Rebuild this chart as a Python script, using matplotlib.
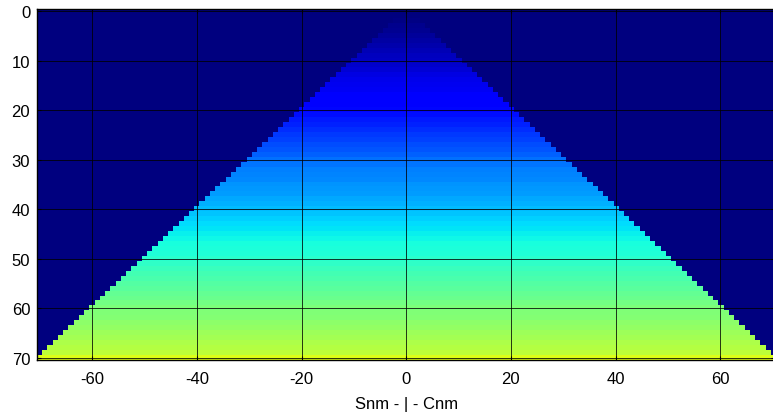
import matplotlib
matplotlib.use("Agg")
import matplotlib.pyplot as plt
import numpy as np

plt.rcParams["font.family"] = ["Liberation Sans", "DejaVu Sans"]
plt.rcParams["axes.unicode_minus"] = False

# degree n (rows) and order m (columns, S on the left, C on the right)
degrees = list(range(0, 71))
orders = list(range(-70, 71))

# level per degree (jet scale, 0..1)
row_level = [
    0.0, 0.0, 0.005, 0.012, 0.018, 0.025, 0.032, 0.04, 0.048, 0.055,
    0.062, 0.07, 0.078, 0.086, 0.095, 0.10, 0.105, 0.11, 0.115, 0.12,
    0.13, 0.14, 0.15, 0.16, 0.17, 0.18, 0.19, 0.20, 0.21, 0.22,
    0.235, 0.24, 0.25, 0.255, 0.26, 0.27, 0.275, 0.28, 0.29, 0.30,
    0.31, 0.32, 0.33, 0.34, 0.35, 0.36, 0.37, 0.38, 0.385, 0.39,
    0.40, 0.41, 0.42, 0.43, 0.44, 0.45, 0.46, 0.47, 0.48, 0.49,
    0.50, 0.505, 0.51, 0.52, 0.53, 0.54, 0.55, 0.56, 0.57, 0.58,
    0.62,
]
background = 0.0

grid = np.full((len(degrees), len(orders)), background)
for i, n in enumerate(degrees):
    for j, m in enumerate(orders):
        if abs(m) <= n:
            grid[i, j] = row_level[i]

fig = plt.figure(figsize=(7.73, 4.14), dpi=100)
ax = fig.add_axes([0.048, 0.128, 0.955, 0.848])
ax.imshow(grid, cmap="jet", vmin=0, vmax=1, interpolation="nearest",
          aspect="auto",
          extent=[orders[0] - 0.5, orders[-1] + 0.5, degrees[-1] + 0.5, degrees[0] - 0.5])

ax.set_xticks([-60, -40, -20, 0, 20, 40, 60])
ax.set_yticks([0, 10, 20, 30, 40, 50, 60, 70])
ax.tick_params(direction="in", length=3, labelsize=12, top=True, right=True,
               width=0.8)
ax.tick_params(axis="x", pad=8)
ax.tick_params(axis="y", pad=5)
ax.grid(True, color="black", linewidth=0.7, alpha=0.8)
ax.set_xlabel("Snm - | - Cnm", fontsize=12, labelpad=7)
for s in ax.spines.values():
    s.set_linewidth(1.0)

fig.savefig("out.png", dpi=100)
